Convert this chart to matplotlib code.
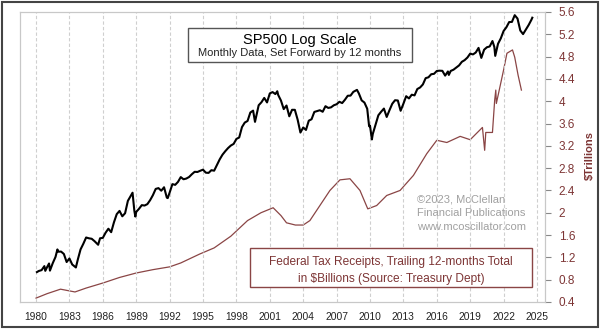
import matplotlib
matplotlib.use("Agg")
import matplotlib.pyplot as plt
from matplotlib.patches import Rectangle

plt.rcParams["font.family"] = ["Liberation Sans", "DejaVu Sans"]

# S&P 500 month-end closes (actual date, decimal year); plotted 12 months forward
sp_dates = [
    1979.08, 1979.25, 1979.50, 1979.75, 1979.83, 1980.00,
    1980.17, 1980.25, 1980.50, 1980.75, 1980.92, 1981.00,
    1981.25, 1981.50, 1981.75, 1982.00,
    1982.25, 1982.58, 1982.75, 1983.00,
    1983.25, 1983.50, 1983.75, 1984.00,
    1984.25, 1984.58, 1984.75, 1985.00,
    1985.25, 1985.50, 1985.75, 1986.00,
    1986.25, 1986.50, 1986.75, 1987.00,
    1987.25, 1987.67, 1987.83, 1987.92, 1988.00,
    1988.25, 1988.50, 1988.75, 1989.00,
    1989.25, 1989.50, 1989.75, 1990.00,
    1990.25, 1990.50, 1990.75, 1990.83, 1991.00,
    1991.25, 1991.50, 1991.75, 1992.00,
    1992.25, 1992.50, 1992.75, 1993.00,
    1993.25, 1993.50, 1993.75, 1994.00,
    1994.25, 1994.50, 1994.75, 1995.00,
    1995.25, 1995.50, 1995.75, 1996.00,
    1996.25, 1996.50, 1996.75, 1997.00,
    1997.25, 1997.50, 1997.75, 1998.00,
    1998.25, 1998.50, 1998.67, 1998.75, 1999.00,
    1999.25, 1999.50, 1999.75, 2000.00,
    2000.25, 2000.50, 2000.67, 2000.75, 2001.00,
    2001.25, 2001.50, 2001.75, 2002.00,
    2002.25, 2002.50, 2002.75, 2003.00,
    2003.25, 2003.50, 2003.75, 2004.00,
    2004.25, 2004.50, 2004.75, 2005.00,
    2005.25, 2005.50, 2005.75, 2006.00,
    2006.25, 2006.50, 2006.75, 2007.00,
    2007.25, 2007.50, 2007.83, 2008.00,
    2008.25, 2008.50, 2008.75, 2008.92, 2009.00,
    2009.17, 2009.25, 2009.50, 2009.75, 2010.00,
    2010.25, 2010.50, 2010.75, 2011.00,
    2011.25, 2011.50, 2011.75, 2012.00,
    2012.25, 2012.50, 2012.75, 2013.00,
    2013.25, 2013.50, 2013.75, 2014.00,
    2014.25, 2014.50, 2014.75, 2015.00,
    2015.25, 2015.50, 2015.75, 2016.00,
    2016.08, 2016.25, 2016.50, 2016.75, 2017.00,
    2017.25, 2017.50, 2017.75, 2018.00,
    2018.25, 2018.50, 2018.75, 2019.00,
    2019.25, 2019.50, 2019.75, 2020.00,
    2020.17, 2020.25, 2020.50, 2020.75, 2021.00,
    2021.25, 2021.50, 2021.75, 2022.00,
    2022.25, 2022.50, 2022.75, 2023.00,
    2023.25, 2023.50, 2023.58,
]
sp_close = [
    99.9, 101.6, 102.9, 109.3, 101.8, 107.9,
    113.7, 102.1, 114.2, 125.5, 140.5, 135.8,
    136.0, 131.2, 116.2, 122.6,
    112.0, 107.1, 120.4, 140.6,
    153.0, 168.1, 166.1, 164.9,
    159.2, 150.7, 166.1, 167.2,
    180.7, 191.9, 182.1, 211.3,
    238.9, 250.8, 231.3, 242.2,
    291.7, 329.8, 251.8, 230.3, 247.1,
    258.9, 273.5, 271.9, 277.7,
    294.9, 318.0, 349.2, 353.4,
    339.9, 358.0, 306.1, 304.0, 330.2,
    375.2, 371.2, 387.9, 417.1,
    403.7, 408.1, 417.8, 435.7,
    451.7, 450.5, 458.9, 466.5,
    445.8, 444.3, 462.7, 459.3,
    500.7, 544.8, 584.4, 615.9,
    645.5, 670.6, 687.3, 740.7,
    757.1, 885.1, 947.3, 970.4,
    1101.8, 1133.8, 957.3, 1017.0, 1229.2,
    1286.4, 1372.7, 1282.7, 1469.3,
    1498.6, 1454.6, 1517.7, 1436.5, 1320.3,
    1160.3, 1224.4, 1040.9, 1148.1,
    1147.4, 989.8, 815.3, 879.8,
    848.2, 974.5, 996.0, 1111.9,
    1126.2, 1140.8, 1114.6, 1211.9,
    1180.6, 1191.3, 1228.8, 1248.3,
    1294.9, 1270.2, 1335.9, 1418.3,
    1420.9, 1503.4, 1549.4, 1468.4,
    1322.7, 1280.0, 1166.4, 896.2, 903.3,
    735.1, 797.9, 919.3, 1057.1, 1115.1,
    1169.4, 1030.7, 1141.2, 1257.6,
    1325.8, 1320.6, 1131.4, 1257.6,
    1408.5, 1362.2, 1440.7, 1426.2,
    1569.2, 1606.3, 1681.6, 1848.4,
    1872.3, 1960.2, 1972.3, 2058.9,
    2067.9, 2063.1, 1920.0, 2043.9,
    1940.2, 2059.7, 2098.9, 2168.3, 2238.8,
    2362.7, 2423.4, 2519.4, 2673.6,
    2640.9, 2718.4, 2914.0, 2506.9,
    2834.4, 2941.8, 2976.7, 3230.8,
    2954.2, 2584.6, 3100.3, 3363.0, 3756.1,
    3972.9, 4297.5, 4307.5, 4766.2,
    4530.4, 3785.4, 3585.6, 3839.5,
    4109.3, 4450.4, 4589.0,
]

# Federal tax receipts, trailing 12-month total ($ trillions)
tax_dates = [
    1980.0, 1981.0, 1982.2, 1983.5, 1984.5, 1986.0, 1987.5, 1989.0,
    1990.5, 1992.0, 1993.0, 1994.7, 1996.0, 1997.5, 1999.0, 2000.2,
    2001.3, 2002.0, 2002.5, 2003.3, 2004.0, 2004.6, 2005.2, 2006.4,
    2007.3, 2008.2, 2009.1, 2009.8, 2010.6, 2011.5, 2012.7, 2013.9,
    2015.1, 2016.0, 2016.9, 2018.1, 2019.0, 2020.1, 2020.3, 2020.4,
    2021.0, 2021.2, 2021.3, 2021.35, 2022.0, 2022.3, 2022.8, 2023.0,
    2023.3, 2023.6,
]
tax_trillions = [
    0.47, 0.55, 0.63, 0.58, 0.65, 0.74, 0.84, 0.92,
    0.98, 1.03, 1.10, 1.26, 1.37, 1.58, 1.86, 2.00,
    2.09, 1.95, 1.82, 1.78, 1.78, 1.86, 2.04, 2.40,
    2.59, 2.61, 2.40, 2.07, 2.13, 2.31, 2.40, 2.67,
    3.06, 3.30, 3.26, 3.37, 3.31, 3.53, 3.12, 3.44,
    3.44, 4.02, 4.20, 3.96, 4.56, 4.86, 4.92, 4.79,
    4.47, 4.20,
]

year_ticks = list(range(1980, 2026, 3))
right_ticks = [0.4, 0.8, 1.2, 1.6, 2.0, 2.4, 2.8, 3.2, 3.6, 4.0, 4.4, 4.8, 5.2, 5.6]
right_labels = ["0.4", "0.8", "1.2", "1.6", "2", "2.4", "2.8", "3.2", "3.6", "4", "4.4", "4.8", "5.2", "5.6"]

brown = "#7d3535"
grid_col = "#cfcfcf"

fig = plt.figure(figsize=(6, 3.29), dpi=100)
ax = fig.add_axes([20 / 600, 1 - 302 / 329, 525 / 600, 290 / 329])
ax2 = ax.twinx()

# left axis: SP500 on log scale, no labels
sp_shifted = [d + 1.0 for d in sp_dates]
ax.plot(sp_shifted, sp_close, color="black", lw=1.5, zorder=3)
ax.set_yscale("log")
ax.set_ylim(63.7, 5000)
ax.set_yticks([])
ax.minorticks_off()
ax.set_xlim(1978.56, 2025.72)
ax.set_xticks(year_ticks)
ax.set_xticklabels([str(y) for y in year_ticks], fontsize=7.4, color="#222222")
ax.tick_params(axis="x", length=0, pad=7)
for y in year_ticks:
    ax.axvline(y, color=grid_col, lw=0.8, ls=(0, (3, 2)), zorder=0)

# right axis: tax receipts
ax2.plot(tax_dates, tax_trillions, color="#8a4545", lw=0.9, zorder=2)
ax2.set_ylim(0.4, 5.6)
ax2.set_yticks(right_ticks)
ax2.set_yticklabels(right_labels, fontsize=8.5, color=brown)
ax2.tick_params(axis="y", length=4, color="#888888", pad=6)
ax2.set_zorder(ax.get_zorder() - 1)
ax.patch.set_visible(False)

for a in (ax, ax2):
    for s in a.spines.values():
        s.set_color("#c8c8c8")
        s.set_linewidth(0.8)

# title box
fig.patches.append(Rectangle((188 / 600, 1 - 62 / 329), 224 / 600, 34 / 329,
                             transform=fig.transFigure, fill=True, facecolor="white",
                             edgecolor="#555555", lw=1.0, zorder=5))
fig.text(300 / 600, 1 - 40 / 329, "SP500 Log Scale", ha="center", va="center",
         fontsize=10.5, color="black", zorder=6)
fig.text(300 / 600, 1 - 53 / 329, "Monthly Data, Set Forward by 12 months",
         ha="center", va="center", fontsize=8, color="#222222", zorder=6)

# tax legend box
fig.patches.append(Rectangle((250 / 600, 1 - 287 / 329), 282 / 600, 39 / 329,
                             transform=fig.transFigure, fill=True, facecolor="white",
                             edgecolor="#8a4545", lw=1.0, zorder=5))
fig.text(391 / 600, 1 - 262 / 329, "Federal Tax Receipts, Trailing 12-months Total",
         ha="center", va="center", fontsize=8.6, color=brown, zorder=6)
fig.text(391 / 600, 1 - 279 / 329, "in $Billions (Source: Treasury Dept)",
         ha="center", va="center", fontsize=8.6, color=brown, zorder=6)

# watermark
for txt, yy in [("\u00a92023, McClellan", 200), ("Financial Publications", 213),
                ("www.mcoscillator.com", 227)]:
    fig.text(417 / 600, 1 - yy / 329, txt, ha="left", va="center",
             fontsize=8, color="#a0a0a0")

fig.text(590 / 600, 1 - 156 / 329, "$Trillions", rotation=90, ha="center",
         va="center", fontsize=8, color=brown, fontweight="bold")

# outer frame
fig.patches.append(Rectangle((2 / 600, 2 / 329), 596 / 600, 325 / 329,
                             transform=fig.transFigure, fill=False,
                             edgecolor="#444444", lw=1.5))

fig.savefig("out.png", dpi=100)
